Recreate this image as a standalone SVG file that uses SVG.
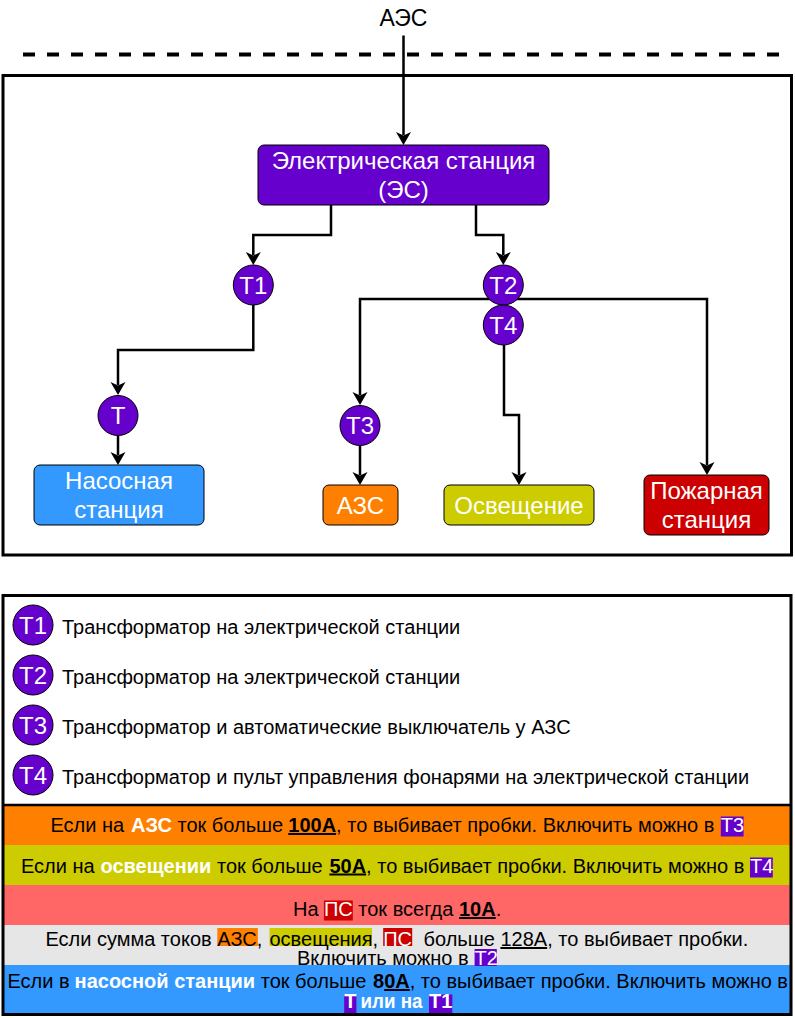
<svg xmlns="http://www.w3.org/2000/svg" width="795" height="1018" viewBox="0 0 795 1018">
<defs>
<marker id="arr" markerUnits="userSpaceOnUse" markerWidth="14" markerHeight="16" viewBox="0 -8 14 16" refX="3" refY="0" orient="auto">
<path d="M13,0 L0,-7.5 L3.5,0 L0,7.5 Z" fill="#000"/>
</marker>
<style>
.edge{fill:none;stroke:#000;stroke-width:2.5;marker-end:url(#arr)}
.tc{fill:#6600CC;stroke:#000;stroke-width:1}
.box{stroke:#000;stroke-width:1}
.lbl{font-family:"Liberation Sans",Arial,sans-serif;fill:#fff;text-anchor:middle}
.n{font-size:24px}
.c{font-size:24px}
.t{font-family:"Liberation Sans",Arial,sans-serif;font-size:20px;fill:#000}
.bw{font-weight:bold;fill:#fff}
.bu{font-weight:bold;text-decoration:underline}
.u{text-decoration:underline}
.w{fill:#fff}
.pur{fill:#6600CC}
</style>
</defs>
<rect width="795" height="1018" fill="#fff"/>

<g id="aes-label">
<text x="403.5" y="26" font-family="Liberation Sans, Arial, sans-serif" font-size="23" fill="#000" text-anchor="middle">АЭС</text>
</g>
<path d="M23,54.5 H782" stroke="#000" stroke-width="4" stroke-dasharray="12 12" fill="none"/>

<rect id="main-container" x="3" y="75.5" width="788.5" height="479.5" fill="none" stroke="#000" stroke-width="3"/>

<g id="connectors">
<path class="edge" d="M403.5,35.5 V135"/>
<path class="edge" d="M331,205 V235 H253.3 V255"/>
<path class="edge" d="M476,205 V235 H503.3 V255"/>
<path class="edge" d="M253.3,305 V350 H118 V385"/>
<path class="edge" d="M118,436 V455"/>
<path class="edge" d="M503.3,299 H360 V395"/>
<path class="edge" d="M503.3,299 H707 V465"/>
<path class="edge" d="M360,446 V475"/>
<path class="edge" d="M504,345 V415 H519 V475"/>
</g>

<g id="node-es">
<rect class="box" x="258" y="145" width="291" height="60" rx="6" fill="#6600CC"/>
<text class="lbl n" x="403.5" y="168.5">Электрическая станция</text>
<text class="lbl n" x="403.5" y="197.5">(ЭС)</text>
</g>
<g id="node-t1"><circle class="tc" cx="253.3" cy="285" r="20"/><text class="lbl c" x="253.3" y="293.5">Т1</text></g>
<g id="node-t2"><circle class="tc" cx="503.3" cy="285" r="20"/><text class="lbl c" x="503.3" y="293.5">Т2</text></g>
<g id="node-t4"><circle class="tc" cx="503.3" cy="325" r="20"/><text class="lbl c" x="503.3" y="333.5">Т4</text></g>
<g id="node-t"><circle class="tc" cx="118" cy="415.5" r="20"/><text class="lbl c" x="118" y="424">Т</text></g>
<g id="node-t3"><circle class="tc" cx="360" cy="425.5" r="20"/><text class="lbl c" x="360" y="434">Т3</text></g>
<g id="node-pump">
<rect class="box" x="34" y="465" width="170" height="60" rx="6" fill="#3399FF"/>
<text class="lbl n" x="119" y="489">Насосная</text>
<text class="lbl n" x="119" y="518">станция</text>
</g>
<g id="node-azs">
<rect class="box" x="323" y="485" width="75" height="40" rx="6" fill="#FF8000"/>
<text class="lbl n" x="360.5" y="513.5">АЗС</text>
</g>
<g id="node-light">
<rect class="box" x="444" y="485" width="150" height="40" rx="6" fill="#CCCC00"/>
<text class="lbl n" x="519" y="513.5">Освещение</text>
</g>
<g id="node-fire">
<rect class="box" x="644" y="475" width="125" height="60" rx="6" fill="#CC0000"/>
<text class="lbl n" x="706.5" y="498.5">Пожарная</text>
<text class="lbl n" x="706.5" y="527.5">станция</text>
</g>

<g id="legend">
<rect x="3" y="595.5" width="788" height="419" fill="#fff" stroke="none"/>
<rect x="3" y="805" width="788" height="40" fill="#FF8000"/>
<rect x="3" y="845" width="788" height="40" fill="#CCCC00"/>
<rect x="3" y="885" width="788" height="40" fill="#FF6666"/>
<rect x="3" y="925" width="788" height="40" fill="#E6E6E6"/>
<rect x="3" y="965" width="788" height="49.5" fill="#3399FF"/>
<path d="M3,805 H791" stroke="#000" stroke-width="2.5"/>
<rect x="3" y="595.5" width="788" height="419" fill="none" stroke="#000" stroke-width="3"/>

<g id="legend-t1"><circle class="tc" cx="33" cy="625" r="20"/><text class="lbl c" x="33" y="633.5">Т1</text>
<text class="t" x="62" y="634">Трансформатор на электрической станции</text></g>
<g id="legend-t2"><circle class="tc" cx="33" cy="675" r="20"/><text class="lbl c" x="33" y="683.5">Т2</text>
<text class="t" x="62" y="684">Трансформатор на электрической станции</text></g>
<g id="legend-t3"><circle class="tc" cx="33" cy="725" r="20"/><text class="lbl c" x="33" y="733.5">Т3</text>
<text class="t" x="62" y="734">Трансформатор и автоматические выключатель у АЗС</text></g>
<g id="legend-t4"><circle class="tc" cx="33" cy="775" r="20"/><text class="lbl c" x="33" y="783.5">Т4</text>
<text class="t" x="62" y="784">Трансформатор и пульт управления фонарями на электрической станции</text></g>

<g id="row-azs">
<rect class="pur" x="720.8" y="816.5" width="22.8" height="20"/>
<text class="t" y="832"><tspan x="50.5">Если на </tspan><tspan class="bw" x="131">АЗС</tspan><tspan> ток больше </tspan><tspan class="bu" x="288.3">100А</tspan><tspan>, то выбивает пробки. Включить можно в </tspan><tspan class="w" x="720.8">Т3</tspan></text>
</g>
<g id="row-light">
<rect class="pur" x="750" y="857.5" width="22.8" height="20"/>
<text class="t" y="872.5"><tspan x="21">Если на </tspan><tspan class="bw" x="100.5">освещении</tspan><tspan> ток больше </tspan><tspan class="bu" x="329.4">50А</tspan><tspan>, то выбивает пробки. Включить можно в </tspan><tspan class="w" x="750">Т4</tspan></text>
</g>
<g id="row-fire">
<rect x="323.9" y="900.5" width="28.9" height="20" fill="#CC0000"/>
<text class="t" y="916"><tspan x="293">На </tspan><tspan class="w" x="323.9">ПС</tspan><tspan> ток всегда </tspan><tspan class="bu" x="459">10А</tspan><tspan>.</tspan></text>
</g>
<g id="row-sum">
<rect x="217.3" y="928" width="40.6" height="18" fill="#FF8000"/>
<rect x="269.5" y="928" width="102.5" height="18" fill="#CCCC00"/>
<rect x="383.2" y="928" width="29" height="18" fill="#CC0000"/>
<rect class="pur" x="474.6" y="949" width="22.2" height="17"/>
<text class="t" y="946"><tspan x="45.4">Если сумма токов </tspan><tspan x="217.3">АЗС</tspan><tspan>, </tspan><tspan x="269.5">освещения</tspan><tspan>, </tspan><tspan class="w" x="383.2">ПС</tspan><tspan x="423.5">больше </tspan><tspan class="u">128А</tspan><tspan>, то выбивает пробки.</tspan></text>
<text class="t" y="964.5"><tspan x="297">Включить можно в </tspan><tspan class="w" x="474.6">Т2</tspan></text>
</g>
<g id="row-pump">
<rect class="pur" x="344.2" y="994.5" width="12.2" height="18.5"/>
<rect class="pur" x="429" y="994.5" width="23.3" height="18.5"/>
<text class="t" y="988"><tspan x="7.4">Если в </tspan><tspan class="bw" x="74.6">насосной станции</tspan><tspan> ток больше </tspan><tspan font-weight="bold" x="373">8</tspan><tspan class="bu">0А</tspan><tspan>, то выбивает пробки. Включить можно в</tspan></text>
<text class="t" y="1008"><tspan class="bw" x="344.2">Т</tspan><tspan class="bw" x="360.5" textLength="62" lengthAdjust="spacingAndGlyphs">или на</tspan><tspan class="bw" x="429">Т1</tspan></text>
</g>
</g>
</svg>
